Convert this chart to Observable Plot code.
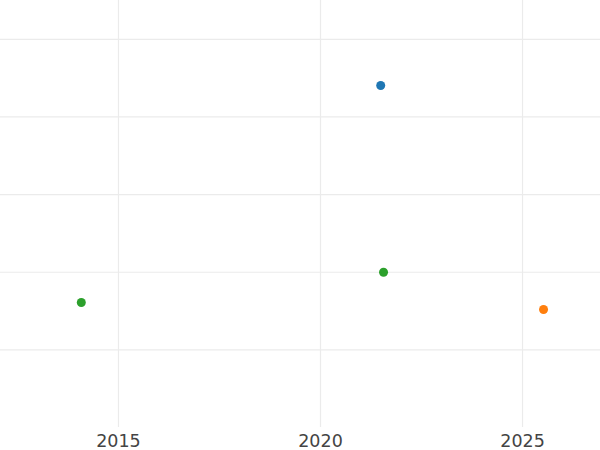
<!DOCTYPE html>
<html>
<head>
<meta charset="utf-8">
<script src="https://cdn.jsdelivr.net/npm/d3@7"></script>
<script src="https://cdn.jsdelivr.net/npm/@observablehq/plot@0.6"></script>
<style>
  html, body { margin: 0; padding: 0; background: #ffffff; }
  #chart svg { display: block; }
</style>
</head>
<body>
<div id="chart"></div>
<script>
const years = [2021.49, 2021.56, 2014.08, 2025.52];
const values = [4.405, 2.0, 1.61, 1.52];
const series = ["A", "B", "B", "C"];
const seriesNames = ["A", "B", "C"];
const seriesColors = ["#1f77b4", "#2ca02c", "#ff7f0e"];
const xTicks = [2015, 2020, 2025];
const yTicks = [1, 2, 3, 4, 5];

const data = years.map((x, i) => ({x, y: values[i], s: series[i]}));

const chart = Plot.plot({
  width: 600,
  height: 450,
  marginTop: 0,
  marginLeft: 0,
  marginRight: 0,
  marginBottom: 23,
  style: {background: "#ffffff", fontFamily: "DejaVu Sans", fontSize: "17.5px", color: "#444"},
  x: {domain: [2012.08, 2026.93], ticks: xTicks, tickFormat: d => String(d), tickSize: 0, tickPadding: 7, label: null},
  y: {domain: [0, 5.5], ticks: yTicks, axis: null},
  color: {domain: seriesNames, range: seriesColors},
  marks: [
    Plot.gridX(xTicks, {stroke: "#ebebeb", strokeOpacity: 1, strokeWidth: 1.2}),
    Plot.gridY(yTicks, {stroke: "#ebebeb", strokeOpacity: 1, strokeWidth: 1.2}),
    Plot.axisX(xTicks, {tickSize: 0, tickPadding: 7, fill: "#444", fontSize: 17.5, tickFormat: d => String(d), label: null}),
    Plot.dot(data, {x: "x", y: "y", fill: "s", r: 4.5, stroke: null})
  ]
});
document.getElementById("chart").appendChild(chart);
</script>
</body>
</html>
